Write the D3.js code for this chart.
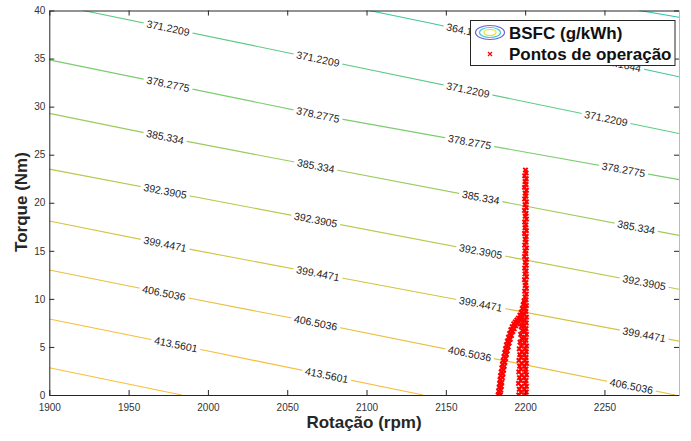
<!DOCTYPE html>
<html>
<head>
<meta charset="UTF-8">
<title>BSFC map</title>
<script src="https://cdn.jsdelivr.net/npm/d3@7"></script>
<style>
    html, body { margin:0; padding:0; background:#fff; }
    svg text { font-family: "Liberation Sans", Arial, Helvetica, sans-serif; }
</style>
</head>
<body>
<svg id="chart" width="691" height="441"></svg>
<script>
// axis ticks
const xTicks = [1900, 1950, 2000, 2050, 2100, 2150, 2200, 2250];
const yTicks = [0, 5, 10, 15, 20, 25, 30, 35, 40];

// contour levels (g/kWh) and their colours
const levels = [357.1079, 364.1644, 371.2209, 378.2775, 385.334, 392.3905, 399.4471, 406.5036, 413.5601, 420.6166];
const levelColors = ["#2fc2ae", "#40c99a", "#5ccb84", "#7acc6e", "#9ccb5a", "#bbc74a", "#d4c340", "#e8c03c", "#f6be3d", "#fbbf3c"];

// contour lines, [rpm, torque]
const c357 = [[2272, 40], [2297, 39.3]];
const c364 = [[2101.6, 40], [2139.9, 38.7], [2297, 33.1]];
const c371 = [[1921.4, 40], [2069.3, 34.96], [2297, 27.2]];
const c378 = [[1900, 34.86], [2069.5, 29.14], [2297, 22.4]];
const c385 = [[1900, 29.3], [1987.6, 26.36], [2297, 16.6]];
const c392 = [[1900, 23.5], [2297, 11.0]];
const c399 = [[1900, 18.1], [1990.7, 15.1], [2085.3, 12.14], [2297, 5.6]];
const c406 = [[1900, 13.0], [1988.7, 10.06], [2053.7, 7.98], [2294.7, 0]];
const c413 = [[1900, 7.9], [1997, 4.68], [2135.7, 0]];
const c420 = [[1900, 2.84], [1983.4, 0]];
const contourLines = [c357, c364, c371, c378, c385, c392, c399, c406, c413, c420];

// where the inline labels sit (rpm)
const labelRpms = [
    [],
    [2164, 2259.6],
    [1974.9, 2069.4, 2164, 2251],
    [1974.9, 2069.4, 2165, 2262],
    [1973, 2068, 2172, 2270],
    [1973, 2068, 2172, 2275],
    [1973, 2069.4, 2172, 2275],
    [1972.3, 2068, 2165, 2267],
    [1979.8, 2074.9],
    []
];

// operating points [rpm, torque]
const opBand = [
    [2199.9,0.0],[2200.7,0.3],[2199.7,0.6],[2200.8,0.9],[2200.0,1.2],[2200.6,1.5],[2199.6,1.8],[2200.8,2.1],[2200.1,2.4],[2200.5,2.7],
    [2199.7,3.0],[2200.8,3.3],[2199.9,3.6],[2200.6,3.9],[2199.6,4.2],[2200.7,4.5],[2200.0,4.8],[2200.8,5.1],[2199.7,5.4],[2200.5,5.7],
    [2199.8,6.0],[2200.8,6.3],[2200.0,6.6],[2200.6,6.9],[2199.6,7.2],[2200.7,7.5],[2199.9,7.8],[2200.8,8.1],[2199.7,8.4],[2200.5,8.7],
    [2200.0,9.0],[2200.8,9.3],[2199.6,9.6],[2200.6,9.9],[2199.9,10.2],[2200.7,10.5],[2199.7,10.8],[2200.8,11.1],[2200.0,11.4],[2200.5,11.7],
    [2199.6,12.0],[2200.8,12.3],[2199.9,12.6],[2200.6,12.9],[2199.7,13.2],[2200.7,13.5],[2200.0,13.8],[2200.8,14.1],[2199.6,14.4],[2200.5,14.7],
    [2199.9,15.0],[2200.8,15.3],[2199.7,15.6],[2200.6,15.9],[2200.0,16.2],[2200.7,16.5],[2199.6,16.8],[2200.8,17.1],[2199.9,17.4],[2200.5,17.7],
    [2199.7,18.0],[2200.8,18.3],[2200.0,18.6],[2200.6,18.9],[2199.6,19.2],[2200.7,19.5],[2199.9,19.8],[2200.8,20.1],[2199.7,20.4],[2200.5,20.7],
    [2200.0,21.0],[2200.8,21.3],[2199.6,21.6],[2200.6,21.9],[2199.9,22.2],[2200.7,22.5],[2199.7,22.8],[2200.6,23.1],[2200.2,23.4]
];
const opCurve = [
    [2183.0,0.0],[2183.3,0.4],[2183.6,0.8],[2183.9,1.2],[2184.2,1.6],[2184.5,2.0],[2184.9,2.4],[2185.3,2.8],[2185.7,3.2],[2186.1,3.6],
    [2186.6,4.0],[2187.1,4.4],[2187.6,4.8],[2188.2,5.2],[2188.8,5.6],[2189.5,6.0],[2190.2,6.4],[2191.0,6.8],[2191.9,7.1],[2192.8,7.4],
    [2193.8,7.6],[2194.8,7.8],[2195.8,8.0],[2196.7,8.3],[2197.5,8.6],[2198.2,9.0],[2198.8,9.4],[2199.3,9.8],
    [2184.4,0.0],[2184.7,0.5],[2185.0,0.9],[2185.3,1.3],[2185.7,1.8],[2186.0,2.2],[2186.4,2.6],[2186.8,3.0],[2187.2,3.4],[2187.7,3.8],
    [2188.2,4.2],[2188.7,4.6],[2189.3,5.0],[2189.9,5.4],[2190.6,5.8],[2191.4,6.2],[2192.2,6.6],[2193.1,6.9],[2194.0,7.2],[2195.0,7.4],
    [2196.0,7.6],[2196.9,7.9],[2197.7,8.2]
];
const opInner = [
    [2196.0,0.0],[2197.4,0.3],[2196.3,0.6],[2197.6,0.9],[2195.8,1.2],[2197.2,1.5],[2196.4,1.8],[2197.7,2.1],[2196.0,2.4],[2197.3,2.7],
    [2196.5,3.0],[2197.8,3.3],[2196.1,3.6],[2197.4,3.9],[2196.6,4.2],[2197.9,4.5],[2196.3,4.8],[2197.5,5.1],[2196.8,5.5],[2197.9,5.9],
    [2197.2,6.3],[2198.2,6.7],[2197.6,7.1],[2198.5,7.5],[2198.0,7.9]
];

const svg = d3.select("#chart");
const x = d3.scaleLinear().domain([1900, 2297]).range([49.3, 679]);
const y = d3.scaleLinear().domain([0, 40]).range([395, 10.5]);

svg.append("defs").append("clipPath").attr("id", "plotclip")
    .append("rect")
    .attr("x", x(1900)).attr("y", y(40))
    .attr("width", x(2297) - x(1900)).attr("height", y(0) - y(40));

const plot = svg.append("g").attr("clip-path", "url(#plotclip)");

// contour lines
const line = d3.line().x(d => x(d[0])).y(d => y(d[1]));
plot.selectAll("path.contour")
    .data(contourLines)
    .join("path")
    .attr("class", "contour")
    .attr("d", line)
    .attr("fill", "none")
    .attr("stroke", (d, i) => levelColors[i])
    .attr("stroke-width", 1.1);

// position on a polyline for a given rpm
function pointOn(pts, rpm) {
    let k = 0;
    while (k < pts.length - 2 && rpm > pts[k + 1][0]) k++;
    const a = pts[k], b = pts[k + 1];
    const t = (rpm - a[0]) / (b[0] - a[0]);
    const tq = a[1] + t * (b[1] - a[1]);
    const ang = Math.atan2(y(b[1]) - y(a[1]), x(b[0]) - x(a[0])) * 180 / Math.PI;
    return { px: x(rpm), py: y(tq), ang: ang };
}

// inline labels
levels.forEach((lv, i) => {
    labelRpms[i].forEach(r => {
        const p = pointOn(contourLines[i], r);
        const g = plot.append("g")
            .attr("transform", `translate(${p.px},${p.py}) rotate(${p.ang})`);
        const rect = g.append("rect").attr("fill", "#fff");
        const txt = g.append("text")
            .attr("text-anchor", "middle")
            .attr("dy", "0.35em")
            .attr("font-size", 10.5)
            .attr("fill", "#222")
            .text(lv.toFixed(4).replace(/0+$/, ""));
        const w = txt.node().getComputedTextLength();
        rect.attr("x", -w / 2 - 3).attr("y", -5).attr("width", w + 6).attr("height", 10);
    });
});

// operating points as x markers
const opPoints = opBand.concat(opCurve, opInner);
const s = 2.2;
plot.selectAll("path.op")
    .data(opPoints)
    .join("path")
    .attr("class", "op")
    .attr("d", d => {
        const px = x(d[0]), py = y(d[1]);
        return `M${px - s},${py - s}L${px + s},${py + s}M${px - s},${py + s}L${px + s},${py - s}`;
    })
    .attr("stroke", "#ff0000")
    .attr("stroke-width", 2)
    .attr("fill", "none");

// axes
const axisColor = "#262626";
const fmt = d3.format("d");
const gx = svg.append("g").attr("transform", `translate(0,${y(0)})`)
    .call(d3.axisBottom(x).tickValues(xTicks).tickFormat(fmt).tickSizeInner(-5).tickSizeOuter(0).tickPadding(9));
const gy = svg.append("g").attr("transform", `translate(${x(1900)},0)`)
    .call(d3.axisLeft(y).tickValues(yTicks).tickFormat(fmt).tickSizeInner(-5).tickSizeOuter(0).tickPadding(4));
const gt = svg.append("g").attr("transform", `translate(0,${y(40)})`)
    .call(d3.axisTop(x).tickValues(xTicks).tickSizeInner(-5).tickSizeOuter(0).tickFormat(""));
const gr = svg.append("g").attr("transform", `translate(${x(2297)},0)`)
    .call(d3.axisRight(y).tickValues(yTicks).tickSizeInner(-5).tickSizeOuter(0).tickFormat(""));
gr.select(".domain").attr("stroke", "#bbb");
[gx, gy, gt].forEach(g => g.select(".domain").attr("stroke", axisColor));
[gx, gy, gt, gr].forEach(g => {
    g.selectAll(".tick line").attr("stroke", axisColor);
    g.selectAll(".tick text").attr("fill", "#333").attr("font-size", 10)
        .style("font-family", "'Liberation Sans', Arial, sans-serif");
});

// axis titles
svg.append("text")
    .attr("x", 364).attr("y", 428)
    .attr("text-anchor", "middle")
    .attr("font-size", 17).attr("font-weight", "bold").attr("fill", "#262626")
    .text("Rotação (rpm)");
svg.append("text")
    .attr("transform", "translate(27,202) rotate(-90)")
    .attr("text-anchor", "middle")
    .attr("font-size", 17).attr("font-weight", "bold").attr("fill", "#262626")
    .text("Torque (Nm)");

// legend
const lg = svg.append("g");
lg.append("rect")
    .attr("x", 470.5).attr("y", 20.5).attr("width", 204.5).attr("height", 45)
    .attr("fill", "#fff").attr("stroke", axisColor).attr("stroke-width", 1);
lg.append("ellipse").attr("cx", 490).attr("cy", 32.5).attr("rx", 14.5).attr("ry", 7)
    .attr("fill", "none").attr("stroke", "#6a5fd8").attr("stroke-width", 1.2);
lg.append("ellipse").attr("cx", 490).attr("cy", 32.5).attr("rx", 10.5).attr("ry", 5)
    .attr("fill", "none").attr("stroke", "#3fc8cf").attr("stroke-width", 1.2);
lg.append("ellipse").attr("cx", 490).attr("cy", 32.5).attr("rx", 6).attr("ry", 3)
    .attr("fill", "none").attr("stroke", "#e6e01e").attr("stroke-width", 1.2);
lg.append("path")
    .attr("d", "M488,52L492,56M488,56L492,52")
    .attr("stroke", "#ff0000").attr("stroke-width", 1.2);
lg.append("text").attr("x", 509).attr("y", 33).attr("dy", "0.35em")
    .attr("font-size", 17).attr("font-weight", "bold").attr("fill", "#111")
    .text("BSFC (g/kWh)");
lg.append("text").attr("x", 509).attr("y", 54.5).attr("dy", "0.35em")
    .attr("font-size", 17).attr("font-weight", "bold").attr("fill", "#111")
    .text("Pontos de operação");
</script>
</body>
</html>
